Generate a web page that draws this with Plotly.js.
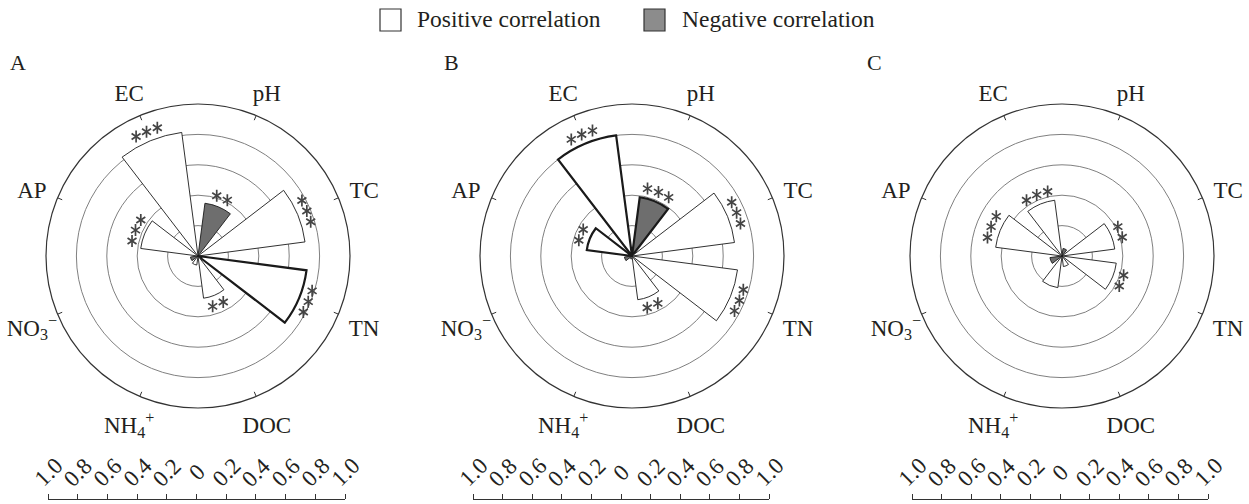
<!DOCTYPE html>
<html>
<head>
<meta charset="utf-8">
<script src="https://cdn.plot.ly/plotly-3.0.1.min.js"></script>
<style>html,body{margin:0;padding:0;background:#fff;}#chart{width:1249px;height:504px;}</style>
</head>
<body>
<div id="chart"></div>
<script>
// ---------------- data ----------------
const categories = ['pH', 'TC', 'TN', 'DOC', 'NH<sub>4</sub><sup>+</sup>', 'NO<sub>3</sub><sup>−</sup>', 'AP', 'EC'];
const panelLabels = ['A', 'B', 'C'];
const corrA = [-0.35, 0.71, 0.72, 0.28, 0.06, -0.05, 0.38, 0.82];
const corrB = [-0.39, 0.68, 0.70, 0.29, 0.02, -0.05, 0.30, 0.80];
const corrC = [-0.05, 0.35, 0.36, 0.07, 0.21, -0.08, 0.44, 0.37];
const sigA = ['**', '***', '***', '**', '', '', '***', '***'];
const sigB = ['***', '***', '***', '**', '', '', '**', '***'];
const sigC = ['', '**', '**', '', '', '', '***', '***'];
const scaleTicks = [-1, -0.8, -0.6, -0.4, -0.2, 0, 0.2, 0.4, 0.6, 0.8, 1];
const scaleLabels = ['1.0', '0.8', '0.6', '0.4', '0.2', '0', '0.2', '0.4', '0.6', '0.8', '1.0'];
const legendLabels = ['Positive correlation', 'Negative correlation'];

// ---------------- style / layout ----------------
const W = 1249, H = 504;
const FONT = 'Liberation Serif';
const TXT = '#231f20';
const POS_FILL = '#ffffff', NEG_FILL = '#6e6e6e', LEG_NEG = '#8c8c8c';
const panels = [
  {corr: corrA, sig: sigA, cx: 198, thick: ['TN'], scale: [48, 345], labelX: 18},
  {corr: corrB, sig: sigB, cx: 632, thick: ['EC', 'pH', 'AP'], scale: [473, 769], labelX: 451},
  {corr: corrC, sig: sigC, cx: 1062, thick: [], scale: [912, 1208], labelX: 874}
];
const R = 152, CY = 256;
const px = x => x / W, py = y => 1 - y / H;
const sectorWidth = 30, starGapPx = 11.5, starOffset = 0.065, tickLenR = 5 / R;
const labelR = 1.183, labelRange = 1.2, labelDy = 5;
const thetaOf = i => 22.5 + 45 * i;

const traces = [];
const layout = {
  width: W, height: H,
  margin: {l: 0, r: 0, t: 0, b: 0},
  paper_bgcolor: '#fff', plot_bgcolor: '#fff',
  showlegend: false,
  font: {family: FONT, color: TXT},
  shapes: [], annotations: []
};

panels.forEach((p, k) => {
  const pid = k === 0 ? 'polar' : 'polar' + (k + 1);
  const lid = 'polar' + (k + 4);
  const sfx = k === 0 ? '' : String(k + 1);
  const thetas = categories.map((c, i) => thetaOf(i));
  traces.push({
    type: 'barpolar', subplot: pid,
    r: p.corr.map(Math.abs), theta: thetas, width: p.corr.map(() => sectorWidth),
    marker: {
      color: p.corr.map(v => v < 0 ? NEG_FILL : POS_FILL),
      line: {color: '#1a1a1a', width: categories.map(c => p.thick.includes(c) ? 2.2 : 0.9)}
    },
    hoverinfo: 'skip'
  });
  // inward tick marks on the outer circle
  const tr = [], tt = [];
  thetas.forEach(t => { tr.push(1 - tickLenR, 1, null); tt.push(t, t, null); });
  traces.push({
    type: 'scatterpolar', subplot: pid, mode: 'lines', r: tr, theta: tt,
    line: {color: '#333', width: 1}, hoverinfo: 'skip', cliponaxis: false
  });
  // significance asterisks (six-armed: two opposed Y symbols)
  const sr = [], st = [];
  p.sig.forEach((s, i) => {
    const n = s.length;
    if (!n) return;
    const rr = Math.abs(p.corr[i]) + starOffset;
    const dDeg = starGapPx / (rr * R) * 180 / Math.PI;
    for (let j = 0; j < n; j++) {
      sr.push(rr);
      st.push(thetaOf(i) + (j - (n - 1) / 2) * dDeg);
    }
  });
  ['y-up-open', 'y-down-open'].forEach(sym => {
    traces.push({
      type: 'scatterpolar', subplot: pid, mode: 'markers', r: sr, theta: st,
      marker: {symbol: sym, size: 7.5, color: '#444', line: {color: '#444', width: 1.7}},
      cliponaxis: false, hoverinfo: 'skip'
    });
  });
  // category labels (on a wider, invisible overlay polar)
  traces.push({
    type: 'scatterpolar', subplot: lid, mode: 'text',
    r: thetas.map(() => labelR), theta: thetas, text: categories, textposition: 'middle center',
    textfont: {family: FONT, size: 23, color: TXT}, cliponaxis: false, hoverinfo: 'skip'
  });
  layout[pid] = {
    domain: {x: [px(p.cx - R), px(p.cx + R)], y: [py(CY + R), py(CY - R)]},
    bgcolor: 'rgba(0,0,0,0)',
    radialaxis: {
      range: [0, 1], tickvals: [0.2, 0.4, 0.6, 0.8], showticklabels: false, ticks: '',
      showline: false, gridcolor: '#808080', gridwidth: 1
    },
    angularaxis: {
      type: 'linear', rotation: 90, direction: 'clockwise',
      tickvals: thetas, showticklabels: false, ticks: '',
      showgrid: false, showline: true, linecolor: '#333', linewidth: 1.2
    }
  };
  const RL = R * labelRange, LCY = CY + labelDy;
  layout[lid] = {
    domain: {x: [px(p.cx - RL), px(p.cx + RL)], y: [py(LCY + RL), py(LCY - RL)]},
    bgcolor: 'rgba(0,0,0,0)',
    radialaxis: {range: [0, labelRange], showticklabels: false, ticks: '', showline: false, showgrid: false},
    angularaxis: {
      type: 'linear', rotation: 90, direction: 'clockwise',
      showticklabels: false, ticks: '', showgrid: false, showline: false
    }
  };
  // scale bar (cartesian axis)
  traces.push({
    type: 'scatter', xaxis: 'x' + sfx, yaxis: 'y' + sfx,
    x: scaleTicks, y: scaleTicks.map(() => 0), mode: 'markers',
    marker: {size: 1, opacity: 0}, hoverinfo: 'skip'
  });
  layout['xaxis' + sfx] = {
    domain: [px(p.scale[0]), px(p.scale[1])], range: [-1, 1], anchor: 'y' + sfx,
    side: 'top', tickvals: scaleTicks, showticklabels: false,
    ticks: 'outside', ticklen: 5, tickcolor: '#333', tickwidth: 1,
    showline: true, linecolor: '#333', linewidth: 1.2, showgrid: false, zeroline: false, fixedrange: true
  };
  layout['yaxis' + sfx] = {
    domain: [0, py(500)], anchor: 'x' + sfx, visible: false, range: [-1, 1], fixedrange: true
  };
  scaleTicks.forEach((t, i) => {
    layout.annotations.push({
      xref: 'x' + sfx, yref: 'paper', x: t, y: py(472),
      text: scaleLabels[i], textangle: -45, showarrow: false,
      xanchor: 'center', yanchor: 'middle',
      font: {family: FONT, size: 23, color: TXT}
    });
  });
  // panel label
  layout.annotations.push({
    xref: 'paper', yref: 'paper', x: px(p.labelX), y: py(62), text: panelLabels[k],
    showarrow: false, xanchor: 'center', yanchor: 'middle',
    font: {family: FONT, size: 22, color: TXT}
  });
});

// legend drawn as shapes + text
const legItems = [
  {x0: 380, fill: POS_FILL, tx: 415},
  {x0: 644, fill: LEG_NEG, tx: 680}
];
legItems.forEach((it, i) => {
  layout.shapes.push({
    type: 'rect', xref: 'paper', yref: 'paper',
    x0: px(it.x0), x1: px(it.x0 + 21), y0: py(31), y1: py(9),
    fillcolor: it.fill, line: {color: '#333', width: 1.2}
  });
  layout.annotations.push({
    xref: 'paper', yref: 'paper', x: px(it.tx), y: py(19), text: legendLabels[i],
    showarrow: false, xanchor: 'left', yanchor: 'middle',
    font: {family: FONT, size: 23.5, color: TXT}
  });
});

Plotly.newPlot('chart', traces, layout, {staticPlot: true, displayModeBar: false});
</script>
</body>
</html>
